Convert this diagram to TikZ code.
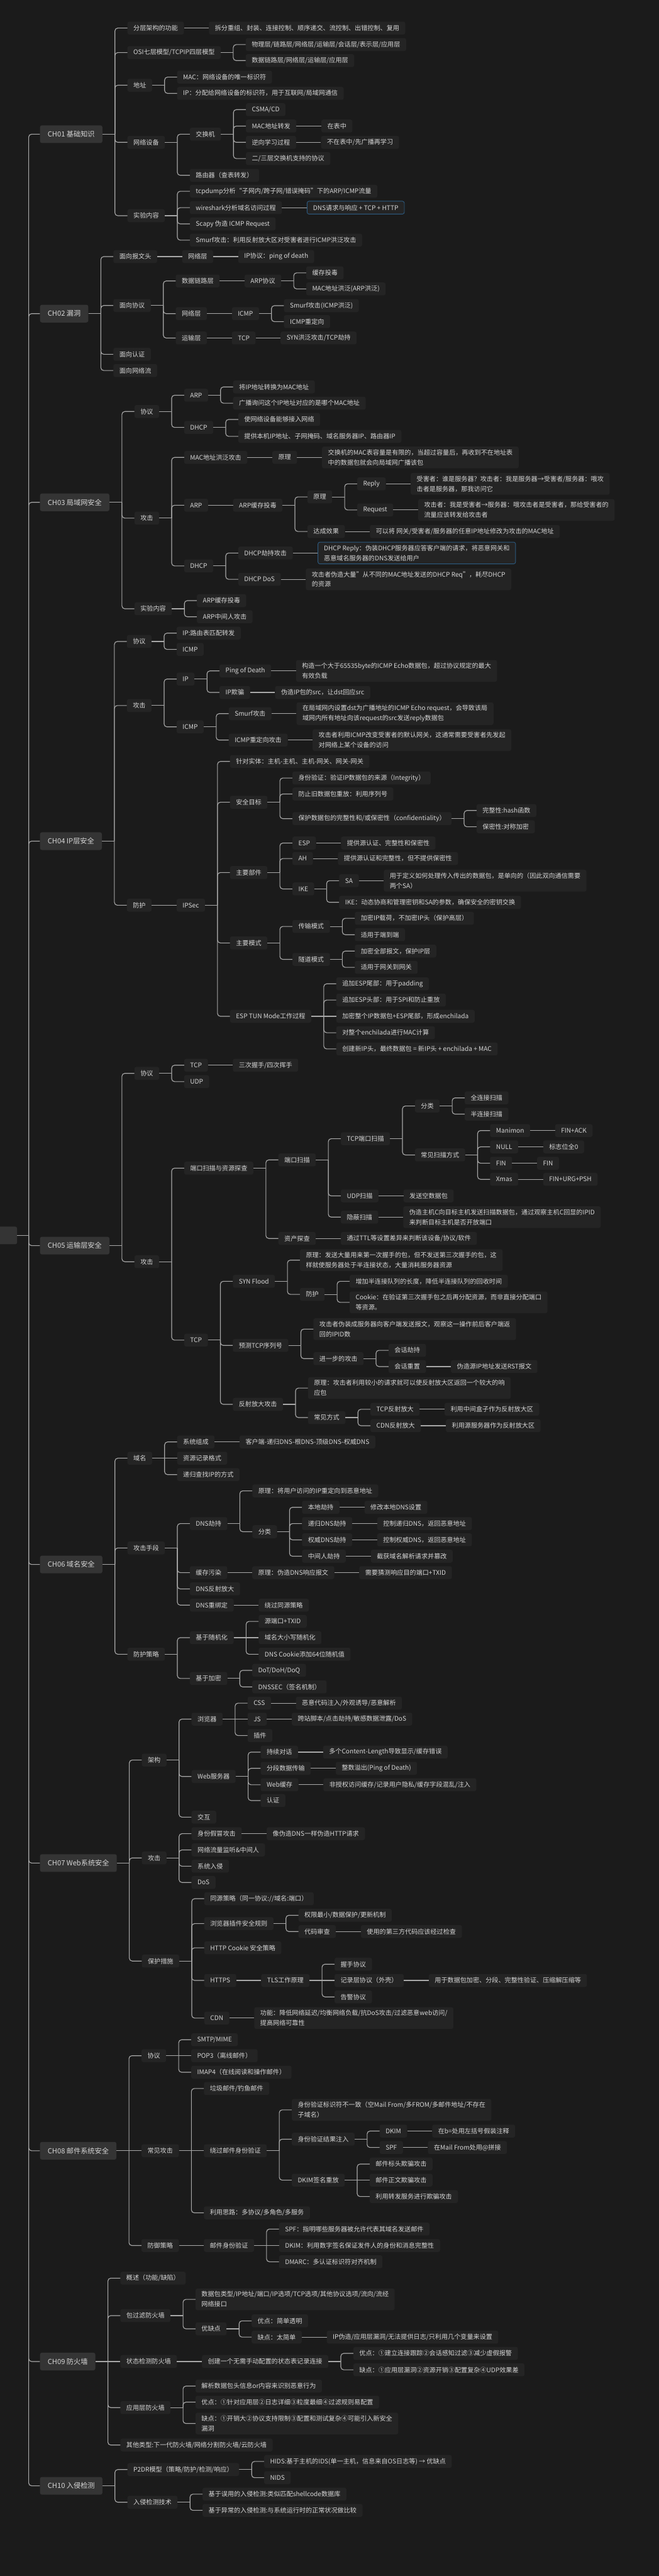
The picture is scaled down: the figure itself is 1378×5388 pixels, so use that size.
\documentclass[tikz,border=0pt]{standalone}
\usepackage{fontspec}
\setmainfont{Noto Sans CJK SC}
\usetikzlibrary{positioning}
\definecolor{bgcol}{HTML}{1B1B1B}
\definecolor{boxcol}{HTML}{242424}
\definecolor{chcol}{HTML}{343434}
\definecolor{txtcol}{HTML}{D6D6D6}
\definecolor{lncol}{HTML}{A8A8A8}
\definecolor{hlcol}{HTML}{2C5A80}
\tikzset{leaf/.style = {rectangle, rounded corners=4pt, fill=boxcol, text=txtcol,
    font=\fontsize{13.3}{21}\selectfont, inner xsep=12.5pt, inner ysep=6pt,
    minimum height=27pt, align=left}}
\tikzset{chbox/.style = {leaf, fill=chcol, font=\fontsize{14.7}{21}\selectfont,
    inner xsep=16pt, minimum height=37pt}}
\tikzset{hl/.style = {draw=hlcol, line width=1.2pt}}
\tikzset{lnk/.style = {draw=lncol, line width=1.5pt}}
% branch: [style] name, parent, y, text
\newcommand\br[5][]{%
  \coordinate (tx) at ([xshift=52pt]#3.east);
  \coordinate (ty) at (0,#4);
  \node[leaf,#1,anchor=west] (#2) at (tx |- ty) {#5};
  \draw[lnk] (#3.east) -- ++(26pt,0);
  \draw[lnk,rounded corners=6pt] ([xshift=26pt]#3.east) |- (#2.west);}
% straight branch (same height as parent)
\newcommand\sbr[5][]{%
  \coordinate (tx) at ([xshift=52pt]#3.east);
  \coordinate (ty) at (0,#4);
  \node[leaf,#1,anchor=west] (#2) at (tx |- ty) {#5};
  \draw[lnk] (#3.east) -- (#2.west);}
% chapter node
\newcommand\chn[3]{%
  \node[chbox,anchor=west] (#1) at (83.5,#2) {#3};
  \draw[lnk,rounded corners=6pt] (60,2584) |- (#1.west);}

\begin{document}
\begin{tikzpicture}[x=1pt,y=-1pt]
\fill[bgcol] (0,0) rectangle (1378,5388);
\useasboundingbox (0,0) rectangle (1378,5388);

\node[chbox, anchor=east, minimum width=70pt] (root) at (36,2584) {};
\draw[lnk] (root.east) -- (60,2584);

% CH01
\chn{c1}{280.7}{CH01 基础知识}
\br{c1a}{c1}{58.7}{分层架构的功能}
\sbr{c1a1}{c1a}{58.7}{拆分重组、封装、连接控制、顺序递交、流控制、出错控制、复用}
\br{c1b}{c1}{110}{OSI七层模型/TCPIP四层模型}
\br{c1b1}{c1b}{93.3}{物理层/链路层/网络层/运输层/会话层/表示层/应用层}
\br{c1b2}{c1b}{126.7}{数据链路层/网络层/运输层/应用层}
\br{c1c}{c1}{178.3}{地址}
\br{c1c1}{c1c}{161.3}{MAC：网络设备的唯一标识符}
\br{c1c2}{c1c}{195.3}{IP：分配给网络设备的标识符，用于互联网/局域网通信}
\br{c1d}{c1}{297.7}{网络设备}
\br{c1d1}{c1d}{280.7}{交换机}
\br{c1d1a}{c1d1}{229.3}{CSMA/CD}
\br{c1d1b}{c1d1}{263.7}{MAC地址转发}
\sbr{c1d1b1}{c1d1b}{263.7}{在表中}
\br{c1d1c}{c1d1}{297.7}{逆向学习过程}
\sbr{c1d1c1}{c1d1c}{297.7}{不在表中/先广播再学习}
\br{c1d1d}{c1d1}{331.7}{二/三层交换机支持的协议}
\br{c1d2}{c1d}{366.7}{路由器（查表转发）}
\br{c1e}{c1}{451.2}{实验内容}
\br{c1e1}{c1e}{400}{tcpdump分析“子网内/跨子网/错误掩码”下的ARP/ICMP流量}
\br{c1e2}{c1e}{434.3}{wireshark分析域名访问过程}
\sbr[hl]{c1e2a}{c1e2}{434.3}{DNS请求与响应 + TCP + HTTP}
\br{c1e3}{c1e}{468.3}{Scapy 伪造 ICMP Request}
\br{c1e4}{c1e}{502.3}{Smurf攻击：利用反射放大区对受害者进行ICMP洪泛攻击}

% CH02
\chn{c2}{656}{CH02 漏洞}
\br{c2a}{c2}{536.7}{面向报文头}
\sbr{c2a1}{c2a}{536.7}{网络层}
\sbr{c2a2}{c2a1}{536.7}{IP协议：ping of death}
\br{c2b}{c2}{639}{面向协议}
\br{c2b1}{c2b}{587.7}{数据链路层}
\sbr{c2b1a}{c2b1}{587.7}{ARP协议}
\br{c2b1b}{c2b1a}{570.7}{缓存投毒}
\br{c2b1c}{c2b1a}{604.3}{MAC地址洪泛(ARP洪泛)}
\br{c2b2}{c2b}{656}{网络层}
\sbr{c2b2a}{c2b2}{656}{ICMP}
\br{c2b2b}{c2b2a}{639.3}{Smurf攻击(ICMP洪泛)}
\br{c2b2c}{c2b2a}{672.7}{ICMP重定向}
\br{c2b3}{c2b}{707}{运输层}
\sbr{c2b3a}{c2b3}{707}{TCP}
\sbr{c2b3b}{c2b3a}{707}{SYN洪泛攻击/TCP劫持}
\br{c2c}{c2}{741}{面向认证}
\br{c2d}{c2}{775}{面向网络流}

% CH03
\chn{c3}{1050.7}{CH03 局域网安全}
\br{c3a}{c3}{860.7}{协议}
\br{c3a1}{c3a}{826.7}{ARP}
\br{c3a1a}{c3a1}{809.3}{将IP地址转换为MAC地址}
\br{c3a1b}{c3a1}{843.3}{广播询问这个IP地址对应的是哪个MAC地址}
\br{c3a2}{c3a}{894}{DHCP}
\br{c3a2a}{c3a2}{877.3}{使网络设备能够接入网络}
\br{c3a2b}{c3a2}{912.7}{提供本机IP地址、子网掩码、域名服务器IP、路由器IP}
\br{c3b}{c3}{1083.7}{攻击}
\br{c3b1}{c3b}{956.7}{MAC地址洪泛攻击}
\sbr{c3b1a}{c3b1}{956.7}{原理}
\sbr{c3b1b}{c3b1a}{956.7}{交换机的MAC表容量是有限的，当超过容量后，再收到不在地址表\\中的数据包就会向局域网广播该包}
\br{c3b2}{c3b}{1056.7}{ARP}
\sbr{c3b2a}{c3b2}{1056.7}{ARP缓存投毒}
\br{c3b2b}{c3b2a}{1039.3}{原理}
\br{c3b2c}{c3b2b}{1012}{Reply}
\sbr{c3b2d}{c3b2c}{1012}{受害者：谁是服务器？攻击者：我是服务器→受害者/服务器：哦攻\\击者是服务器，那我访问它}
\br{c3b2e}{c3b2b}{1066.7}{Request}
\sbr{c3b2f}{c3b2e}{1066.7}{攻击者：我是受害者→服务器：哦攻击者是受害者，那给受害者的\\流量应该转发给攻击者}
\br{c3b2g}{c3b2a}{1111.7}{达成效果}
\sbr{c3b2h}{c3b2g}{1111.7}{可以将 网关/受害者/服务器的任意IP地址修改为攻击的MAC地址}
\br{c3b3}{c3b}{1183.7}{DHCP}
\br{c3b3a}{c3b3}{1156.7}{DHCP劫持攻击}
\sbr[hl]{c3b3b}{c3b3a}{1156.7}{DHCP Reply：伪装DHCP服务器应答客户端的请求，将恶意网关和\\恶意域名服务器的DNS发送给用户}
\br{c3b3c}{c3b3}{1211.7}{DHCP DoS}
\sbr{c3b3d}{c3b3c}{1211.7}{攻击者伪造大量"从不同的MAC地址发送的DHCP Req"，耗尽DHCP\\的资源}
\br{c3c}{c3}{1273.3}{实验内容}
\br{c3c1}{c3c}{1256.3}{ARP缓存投毒}
\br{c3c2}{c3c}{1290}{ARP中间人攻击}

% CH04
\chn{c4}{1759.3}{CH04 IP层安全}
\br{c4a}{c4}{1341.7}{协议}
\br{c4a1}{c4a}{1324.3}{IP:路由表匹配转发}
\br{c4a2}{c4a}{1358.3}{ICMP}
\br{c4b}{c4}{1475.7}{攻击}
\br{c4b1}{c4b}{1420.3}{IP}
\br{c4b1a}{c4b1}{1403.3}{Ping of Death}
\sbr{c4b1b}{c4b1a}{1403.3}{构造一个大于65535byte的ICMP Echo数据包，超过协议规定的最大\\有效负载}
\br{c4b1c}{c4b1}{1448.3}{IP欺骗}
\sbr{c4b1d}{c4b1c}{1448.3}{伪造IP包的src，让dst回应src}
\br{c4b2}{c4b}{1520.3}{ICMP}
\br{c4b2a}{c4b2}{1492.7}{Smurf攻击}
\sbr{c4b2b}{c4b2a}{1492.7}{在局域网内设置dst为广播地址的ICMP Echo request，会导致该局\\域网内所有地址向该request的src发送reply数据包}
\br{c4b2c}{c4b2}{1548}{ICMP重定向攻击}
\sbr{c4b2d}{c4b2c}{1548}{攻击者利用ICMP改变受害者的默认网关，这通常需要受害者先发起\\对网络上某个设备的访问}
\br{c4c}{c4}{1893.3}{防护}
\sbr{c4c1}{c4c}{1893.3}{IPSec}
\br{c4c1a}{c4c1}{1592.7}{针对实体：主机-主机、主机-网关、网关-网关}
\br{c4c1b}{c4c1}{1678}{安全目标}
\br{c4c1b1}{c4c1b}{1627.3}{身份验证：验证IP数据包的来源（Integrity）}
\br{c4c1b2}{c4c1b}{1660.7}{防止旧数据包重放：利用序列号}
\br{c4c1b3}{c4c1b}{1712.3}{保护数据包的完整性和/或保密性（confidentiality）}
\br{c4c1b3a}{c4c1b3}{1695.3}{完整性:hash函数}
\br{c4c1b3b}{c4c1b3}{1729.3}{保密性:对称加密}
\br{c4c1c}{c4c1}{1825}{主要部件}
\br{c4c1c1}{c4c1c}{1763.3}{ESP}
\sbr{c4c1c1a}{c4c1c1}{1763.3}{提供源认证、完整性和保密性}
\br{c4c1c2}{c4c1c}{1795.7}{AH}
\sbr{c4c1c2a}{c4c1c2}{1795.7}{提供源认证和完整性，但不提供保密性}
\br{c4c1c3}{c4c1c}{1859.3}{IKE}
\br{c4c1c3a}{c4c1c3}{1842}{SA}
\sbr{c4c1c3b}{c4c1c3a}{1842}{用于定义如何处理传入传出的数据包，是单向的（因此双向通信需要\\两个SA）}
\br{c4c1c3c}{c4c1c3}{1887.3}{IKE：动态协商和管理密钥和SA的参数，确保安全的密钥交换}
\br{c4c1d}{c4c1}{1972.3}{主要模式}
\br{c4c1d1}{c4c1d}{1937.7}{传输模式}
\br{c4c1d1a}{c4c1d1}{1920.7}{加密IP载荷，不加密IP头（保护高层）}
\br{c4c1d1b}{c4c1d1}{1955}{适用于端到端}
\br{c4c1d2}{c4c1d}{2006.7}{隧道模式}
\br{c4c1d2a}{c4c1d2}{1989.3}{加密全部报文，保护IP层}
\br{c4c1d2b}{c4c1d2}{2023.3}{适用于网关到网关}
\br{c4c1e}{c4c1}{2125.7}{ESP TUN Mode工作过程}
\br{c4c1e1}{c4c1e}{2057.7}{追加ESP尾部：用于padding}
\br{c4c1e2}{c4c1e}{2091.7}{追加ESP头部：用于SPI和防止重放}
\sbr{c4c1e3}{c4c1e}{2125.7}{加密整个IP数据包+ESP尾部，形成enchilada}
\br{c4c1e4}{c4c1e}{2160}{对整个enchilada进行MAC计算}
\br{c4c1e5}{c4c1e}{2194}{创建新IP头，最终数据包 = 新IP头 + enchilada + MAC}

% CH05
\chn{c5}{2605.3}{CH05 运输层安全}
\br{c5a}{c5}{2245}{协议}
\br{c5a1}{c5a}{2228}{TCP}
\sbr{c5a1a}{c5a1}{2228}{三次握手/四次挥手}
\br{c5a2}{c5a}{2262.3}{UDP}
\br{c5b}{c5}{2639}{攻击}
\br{c5b1}{c5b}{2443.3}{端口扫描与资源探查}
\br{c5b1a}{c5b1}{2426}{端口扫描}
\br{c5b1a1}{c5b1a}{2381.7}{TCP端口扫描}
\br{c5b1a1a}{c5b1a1}{2313.3}{分类}
\br{c5fl1}{c5b1a1a}{2296.3}{全连接扫描}
\br{c5fl2}{c5b1a1a}{2330.3}{半连接扫描}
\br{c5b1a1b}{c5b1a1}{2415.7}{常见扫描方式}
\br{c5sm1}{c5b1a1b}{2364.7}{Manimon}
\sbr{c5sm1a}{c5sm1}{2364.7}{FIN+ACK}
\br{c5sm2}{c5b1a1b}{2398.7}{NULL}
\sbr{c5sm2a}{c5sm2}{2398.7}{标志位全0}
\br{c5sm3}{c5b1a1b}{2433}{FIN}
\sbr{c5sm3a}{c5sm3}{2433}{FIN}
\br{c5sm4}{c5b1a1b}{2466.7}{Xmas}
\sbr{c5sm4a}{c5sm4}{2466.7}{FIN+URG+PSH}
\br{c5b1a2}{c5b1a}{2501.3}{UDP扫描}
\sbr{c5b1a2a}{c5b1a2}{2501.3}{发送空数据包}
\br{c5b1a3}{c5b1a}{2545.7}{隐蔽扫描}
\sbr{c5b1a3a}{c5b1a3}{2545.7}{伪造主机C向目标主机发送扫描数据包，通过观察主机C回显的IPID\\来判断目标主机是否开放端口}
\br{c5b1b}{c5b1}{2590.3}{资产探查}
\sbr{c5b1b1}{c5b1b}{2590.3}{通过TTL等设置差异来判断该设备/协议/软件}
\br{c5b2}{c5b}{2803}{TCP}
\br{c5b2a}{c5b2}{2680}{SYN Flood}
\br{c5b2a1}{c5b2a}{2635.7}{原理：发送大量用来第一次握手的包，但不发送第三次握手的包，这\\样就使服务器处于半连接状态，大量消耗服务器资源}
\br{c5b2a2}{c5b2a}{2707.3}{防护}
\br{c5b2a2a}{c5b2a2}{2680}{增加半连接队列的长度，降低半连接队列的回收时间}
\br{c5b2a2b}{c5b2a2}{2724}{Cookie：在验证第三次握手包之后再分配资源，而非直接分配端口\\等资源。}
\br{c5b2b}{c5b2}{2814}{预测TCP序列号}
\br{c5b2b1}{c5b2b}{2780}{攻击者伪装成服务器向客户端发送报文，观察这一操作前后客户端返\\回的IPID数}
\br{c5b2b2}{c5b2b}{2841.7}{进一步的攻击}
\br{c5b2b2a}{c5b2b2}{2824.3}{会话劫持}
\br{c5b2b2b}{c5b2b2}{2858.3}{会话重置}
\sbr{c5b2b2c}{c5b2b2b}{2858.3}{伪造源IP地址发送RST报文}
\br{c5b2c}{c5b2}{2937.3}{反射放大攻击}
\br{c5b2c1}{c5b2c}{2903.3}{原理：攻击者利用较小的请求就可以使反射放大区返回一个较大的响\\应包}
\br{c5b2c2}{c5b2c}{2965}{常见方式}
\br{c5b2c2a}{c5b2c2}{2947.7}{TCP反射放大}
\sbr{c5b2c2b}{c5b2c2a}{2947.7}{利用中间盒子作为反射放大区}
\br{c5b2c2c}{c5b2c2}{2982}{CDN反射放大}
\sbr{c5b2c2d}{c5b2c2c}{2982}{利用源服务器作为反射放大区}

% CH06
\chn{c6}{3272.3}{CH06 域名安全}
\br{c6a}{c6}{3050}{域名}
\br{c6a1}{c6a}{3016}{系统组成}
\sbr{c6a1a}{c6a1}{3016}{客户端-递归DNS-根DNS-顶级DNS-权威DNS}
\sbr{c6a2}{c6a}{3050}{资源记录格式}
\br{c6a3}{c6a}{3084.3}{递归查找IP的方式}
\br{c6b}{c6}{3237.7}{攻击手段}
\br{c6b1}{c6b}{3186.7}{DNS劫持}
\br{c6b1a}{c6b1}{3118.3}{原理：将用户访问的IP重定向到恶意地址}
\br{c6b1b}{c6b1}{3203.7}{分类}
\br{c6hj1}{c6b1b}{3152.7}{本地劫持}
\sbr{c6hj1a}{c6hj1}{3152.7}{修改本地DNS设置}
\br{c6hj2}{c6b1b}{3186.7}{递归DNS劫持}
\sbr{c6hj2a}{c6hj2}{3186.7}{控制递归DNS，返回恶意地址}
\br{c6hj3}{c6b1b}{3220.7}{权威DNS劫持}
\sbr{c6hj3a}{c6hj3}{3220.7}{控制权威DNS，返回恶意地址}
\br{c6hj4}{c6b1b}{3255}{中间人劫持}
\sbr{c6hj4a}{c6hj4}{3255}{截获域名解析请求并篡改}
\br{c6b2}{c6b}{3289.3}{缓存污染}
\sbr{c6b2a}{c6b2}{3289.3}{原理：伪造DNS响应报文}
\sbr{c6b2b}{c6b2a}{3289.3}{需要猜测响应目的端口+TXID}
\br{c6b3}{c6b}{3323.3}{DNS反射放大}
\br{c6b4}{c6b}{3357.3}{DNS重绑定}
\sbr{c6b4a}{c6b4}{3357.3}{绕过同源策略}
\br{c6c}{c6}{3460}{防护策略}
\br{c6c1}{c6c}{3425.3}{基于随机化}
\br{c6c1a}{c6c1}{3391.3}{源端口+TXID}
\sbr{c6c1b}{c6c1}{3425.3}{域名大小写随机化}
\br{c6c1c}{c6c1}{3460}{DNS Cookie添加64位随机值}
\br{c6c2}{c6c}{3510.7}{基于加密}
\br{c6c2a}{c6c2}{3493.7}{DoT/DoH/DoQ}
\br{c6c2b}{c6c2}{3528.3}{DNSSEC（签名机制）}

% CH07
\chn{c7}{3896.7}{CH07 Web系统安全}
\br{c7a}{c7}{3681.3}{架构}
\br{c7a1}{c7a}{3595.7}{浏览器}
\br{c7a1a}{c7a1}{3562.3}{CSS}
\sbr{c7a1a1}{c7a1a}{3562.3}{恶意代码注入/外观诱导/恶意解析}
\sbr{c7a1b}{c7a1}{3595.7}{JS}
\sbr{c7a1b1}{c7a1b}{3595.7}{跨站脚本/点击劫持/敏感数据泄露/DoS}
\br{c7a1c}{c7a1}{3630}{插件}
\br{c7a2}{c7a}{3715.7}{Web服务器}
\br{c7a2a}{c7a2}{3664.7}{持续对话}
\sbr{c7a2a1}{c7a2a}{3664.7}{多个Content-Length导致显示/缓存错误}
\br{c7a2b}{c7a2}{3698.7}{分段数据传输}
\sbr{c7a2b1}{c7a2b}{3698.7}{整数溢出(Ping of Death)}
\br{c7a2c}{c7a2}{3733}{Web缓存}
\sbr{c7a2c1}{c7a2c}{3733}{非授权访问缓存/记录用户隐私/缓存字段混乱/注入}
\br{c7a2d}{c7a2}{3766}{认证}
\br{c7a3}{c7a}{3800.7}{交互}
\br{c7b}{c7}{3886}{攻击}
\br{c7b1}{c7b}{3835.3}{身份假冒攻击}
\sbr{c7b1a}{c7b1}{3835.3}{像伪造DNS一样伪造HTTP请求}
\br{c7b2}{c7b}{3869.3}{网络流量监听\&中间人}
\br{c7b3}{c7b}{3903.3}{系统入侵}
\br{c7b4}{c7b}{3937.3}{DoS}
\br{c7c}{c7}{4101.7}{保护措施}
\br{c7c1}{c7c}{3971.3}{同源策略（同一协议://域名:端口）}
\br{c7c2}{c7c}{4023.3}{浏览器插件安全规则}
\br{c7c2a}{c7c2}{4006}{权限最小/数据保护/更新机制}
\br{c7c2b}{c7c2}{4040}{代码审查}
\sbr{c7c2b1}{c7c2b}{4040}{使用的第三方代码应该经过检查}
\br{c7c3}{c7c}{4074}{HTTP Cookie 安全策略}
\br{c7c4}{c7c}{4142.3}{HTTPS}
\sbr{c7c4a}{c7c4}{4142.3}{TLS工作原理}
\br{c7c4a1}{c7c4a}{4108.3}{握手协议}
\sbr{c7c4a2}{c7c4a}{4142.3}{记录层协议（外壳）}
\sbr{c7c4a2a}{c7c4a2}{4142.3}{用于数据包加密、分段、完整性验证、压缩解压缩等}
\br{c7c4a3}{c7c4a}{4176.7}{告警协议}
\br{c7c5}{c7c}{4221}{CDN}
\sbr{c7c5a}{c7c5}{4221}{功能：降低网络延迟/均衡网络负载/抗DoS攻击/过滤恶意web访问/\\提高网络可靠性}

% CH08
\chn{c8}{4498.5}{CH08 邮件系统安全}
\br{c8a}{c8}{4299.7}{协议}
\br{c8a1}{c8a}{4266.3}{SMTP/MIME}
\sbr{c8a2}{c8a}{4299.7}{POP3（离线邮件）}
\br{c8a3}{c8a}{4334.3}{IMAP4（在线阅读和操作邮件）}
\sbr{c8b}{c8}{4498.5}{常见攻击}
\br{c8b1}{c8b}{4368.3}{垃圾邮件/钓鱼邮件}
\sbr{c8b2}{c8b}{4498.5}{绕过邮件身份验证}
\br{c8b2a}{c8b2}{4413}{身份验证标识符不一致（空Mail From/多FROM/多邮件地址/不存在\\子域名）}
\br{c8b2b}{c8b2}{4474.3}{身份验证结果注入}
\br{c8b2b1}{c8b2b}{4457.3}{DKIM}
\sbr{c8b2b1a}{c8b2b1}{4457.3}{在b=处用左括号假装注释}
\br{c8b2b2}{c8b2b}{4491.7}{SPF}
\sbr{c8b2b2a}{c8b2b2}{4491.7}{在Mail From处用@拼接}
\br{c8b2c}{c8b2}{4560}{DKIM签名重放}
\br{c8b2c1}{c8b2c}{4526.3}{邮件标头欺骗攻击}
\sbr{c8b2c2}{c8b2c}{4560}{邮件正文欺骗攻击}
\br{c8b2c3}{c8b2c}{4594.3}{利用转发服务进行欺骗攻击}
\br{c8b3}{c8b}{4628.3}{利用思路：多协议/多角色/多服务}
\br{c8c}{c8}{4696.7}{防御策略}
\sbr{c8c1}{c8c}{4696.7}{邮件身份验证}
\br{c8c1a}{c8c1}{4662.3}{SPF：指明哪些服务器被允许代表其域名发送邮件}
\sbr{c8c1b}{c8c1}{4696.7}{DKIM：利用数字签名保证发件人的身份和消息完整性}
\br{c8c1c}{c8c1}{4730.7}{DMARC：多认证标识符对齐机制}

% CH09
\chn{c9}{4939.3}{CH09 防火墙}
\br{c9a}{c9}{4765}{概述（功能/缺陷）}
\br{c9b}{c9}{4843.3}{包过滤防火墙}
\br{c9b1}{c9b}{4809.3}{数据包类型/IP地址/端口/IP选项/TCP选项/其他协议选项/流向/流经\\网络接口}
\br{c9b2}{c9b}{4871}{优缺点}
\br{c9b2a}{c9b2}{4854.3}{优点：简单透明}
\br{c9b2b}{c9b2}{4888.3}{缺点：太简单}
\sbr{c9b2b1}{c9b2b}{4888.3}{IP伪造/应用层漏洞/无法提供日志/只利用几个变量来设置}
\sbr{c9c}{c9}{4939.3}{状态检测防火墙}
\sbr{c9c1}{c9c}{4939.3}{创建一个无需手动配置的状态表记录连接}
\br{c9c1a}{c9c1}{4922.3}{优点：①建立连接跟踪②会话感知过滤③减少虚假报警}
\br{c9c1b}{c9c1}{4956.7}{缺点：①应用层漏洞②资源开销③配置复杂④UDP效果差}
\br{c9d}{c9}{5035.7}{应用层防火墙}
\br{c9d1}{c9d}{4990.7}{解析数据包头信息or内容来识别恶意行为}
\br{c9d2}{c9d}{5024.3}{优点：①针对应用层②日志详细③粒度最细④过滤规则易配置}
\br{c9d3}{c9d}{5069}{缺点：①开销大②协议支持限制③配置和测试复杂④可能引入新安全\\漏洞}
\br{c9e}{c9}{5114}{其他类型:下一代防火墙/网络分割防火墙/云防火墙}

% CH10
\chn{c10}{5199.3}{CH10 入侵检测}
\br{c10a}{c10}{5165.3}{P2DR模型（策略/防护/检测/响应）}
\br{c10a1}{c10a}{5148.3}{HIDS:基于主机的IDS(单一主机，信息来自OS日志等) → 优缺点}
\br{c10a2}{c10a}{5182.3}{NIDS}
\br{c10b}{c10}{5233.7}{入侵检测技术}
\br{c10b1}{c10b}{5216.7}{基于误用的入侵检测:类似匹配shellcode数据库}
\br{c10b2}{c10b}{5250.7}{基于异常的入侵检测:与系统运行时的正常状况做比较}
\end{tikzpicture}
\end{document}
